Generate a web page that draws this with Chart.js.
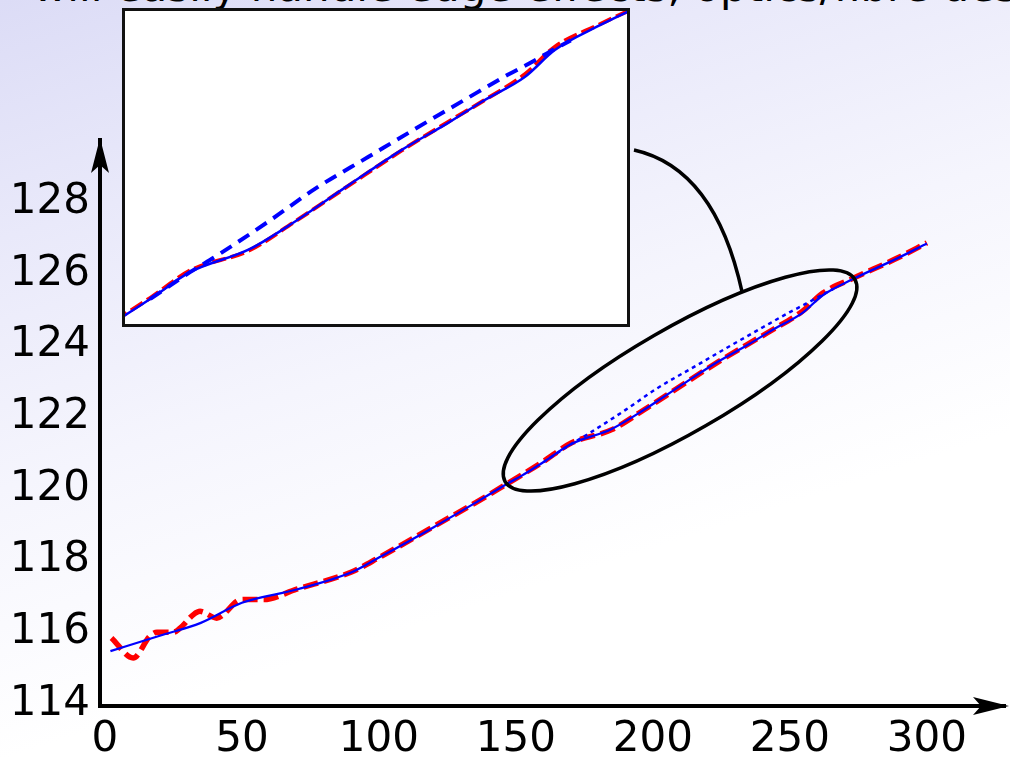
<!DOCTYPE html>
<html>
<head>
<meta charset="utf-8">
<script src="https://cdn.jsdelivr.net/npm/chart.js@4/dist/chart.umd.min.js"></script>
<style>
  html, body { margin: 0; padding: 0; }
  body {
    width: 1010px; height: 759px; overflow: hidden; position: relative;
    background: linear-gradient(162deg, #dcdcf6 0%, #e9e9fa 22%, #f5f5fd 45%, #ffffff 70%);
    font-family: 'DejaVu Sans', sans-serif;
  }
  #title {
    position: absolute; left: 33px; top: -34px; white-space: nowrap;
    font-size: 42px; line-height: 42px; color: #000;
  }
  #main { position: absolute; left: 0; top: 0; }
  #insetBox {
    position: absolute; left: 122px; top: 8px; width: 508px; height: 319px;
    box-sizing: border-box; border: 3px solid #111; background: #fff;
  }
  #inset { display: block; }
</style>
</head>
<body>
<div id="title">will easily handle edge effects, optics/fibre design</div>
<canvas id="main" width="1010" height="759"></canvas>
<div id="insetBox"><canvas id="inset" width="502" height="313"></canvas></div>
<script>
// tick labels
const xTicks = [0, 50, 100, 150, 200, 250, 300];
const yTicks = [114, 116, 118, 120, 122, 124, 126, 128];

// solid blue curve
const blueX = [2, 20, 35, 50, 70, 90, 100, 120, 135, 147, 152, 160, 170, 185, 196.5, 210, 223.4, 235, 244, 254.5, 262, 273, 289, 300];
const blueY = [115.47, 115.9, 116.26, 116.82, 117.19, 117.67, 118.08, 118.93, 119.6, 120.15, 120.36, 120.74, 121.24, 121.67, 122.19, 122.87, 123.53, 124.03, 124.45, 124.9, 125.4, 125.85, 126.42, 126.84];

// blue dotted / dashed curve (only where it leaves the solid one)
const dotX = [160, 170, 177, 190, 201.5, 215, 226.7, 240, 250, 256.1, 262, 266];
const dotY = [120.74, 121.24, 121.56, 122.2, 122.8, 123.4, 123.92, 124.5, 124.93, 125.17, 125.42, 125.58];

// red dashed curve
const redX = [2.4, 10.3, 16.4, 19, 25, 27.4, 32.3, 34.7, 40.8, 43.2, 48.1, 50.4, 57.8, 70, 90, 100, 120, 135, 147, 160, 170, 185, 196.5, 210, 223.4, 235, 244, 254.5, 262, 273, 289, 300];
const redY = [115.84, 115.28, 115.89, 116.0, 116.0, 116.11, 116.49, 116.58, 116.39, 116.49, 116.86, 116.91, 116.91, 117.2, 117.68, 118.08, 118.95, 119.6, 120.15, 120.76, 121.27, 121.65, 122.19, 122.86, 123.52, 124.05, 124.45, 124.95, 125.46, 125.87, 126.43, 126.86];

// zoomed region shown in the inset
const insetXRange = [153.6, 280.2];
const insetYRange = [120.27, 126.13];
// ellipse around the zoomed region (centre in data units)
const ellipseCenter = [209.9, 123.02];

const pts = (xs, ys) => xs.map((x, i) => ({ x: x, y: ys[i] }));
const font = { family: 'DejaVu Sans', size: 42 };

const annotate = {
  id: 'annotate',
  afterDraw(chart) {
    const ctx = chart.ctx;
    const a = chart.chartArea;
    ctx.save();
    ctx.fillStyle = '#000';
    // axis arrow heads
    ctx.beginPath();
    ctx.moveTo(a.left, a.top - 2);
    ctx.lineTo(a.left - 9, a.top + 33);
    ctx.lineTo(a.left, a.top + 25);
    ctx.lineTo(a.left + 9, a.top + 33);
    ctx.closePath();
    ctx.fill();
    ctx.beginPath();
    ctx.moveTo(a.right + 4, a.bottom);
    ctx.lineTo(a.right - 32, a.bottom - 9);
    ctx.lineTo(a.right - 24, a.bottom);
    ctx.lineTo(a.right - 32, a.bottom + 9);
    ctx.closePath();
    ctx.fill();

    // ellipse
    const cx = chart.scales.x.getPixelForValue(ellipseCenter[0]);
    const cy = chart.scales.y.getPixelForValue(ellipseCenter[1]);
    const rx = 202, ry = 52, rot = -Math.PI / 6;
    ctx.strokeStyle = '#000';
    ctx.lineWidth = 3.5;
    ctx.beginPath();
    ctx.ellipse(cx, cy, rx, ry, rot, 0, Math.PI * 2);
    ctx.stroke();

    // connector from inset to ellipse
    const t = -61 * Math.PI / 180;
    const u = rx * Math.cos(t), v = ry * Math.sin(t);
    const ex = cx + u * Math.cos(rot) - v * Math.sin(rot);
    const ey = cy + u * Math.sin(rot) + v * Math.cos(rot);
    ctx.beginPath();
    ctx.moveTo(634, 150);
    ctx.quadraticCurveTo(715, 168, ex, ey);
    ctx.stroke();
    ctx.restore();
  }
};

const line = { pointRadius: 0, cubicInterpolationMode: 'monotone', borderCapStyle: 'butt' };

new Chart(document.getElementById('main'), {
  type: 'line',
  data: {
    datasets: [
      { ...line, data: pts(blueX, blueY), borderColor: '#0000ff', borderWidth: 2.3 },
      { ...line, data: pts(dotX, dotY), borderColor: '#0000ff', borderWidth: 2.5, borderDash: [4, 4] },
      { ...line, data: pts(redX, redY), borderColor: '#ff0000', borderWidth: 5.5, borderDash: [15, 6] }
    ]
  },
  options: {
    responsive: false,
    animation: false,
    devicePixelRatio: 1,
    layout: { padding: { top: 140, right: 5, left: 0, bottom: 0 } },
    plugins: { legend: { display: false }, tooltip: { enabled: false } },
    scales: {
      x: {
        type: 'linear', min: -1.8, max: 328.5,
        grid: { display: false, drawTicks: false },
        border: { color: '#000', width: 4 },
        ticks: { color: '#000', font: font, padding: 9, maxRotation: 0 },
        afterBuildTicks: (axis) => { axis.ticks = xTicks.map(v => ({ value: v })); },
        afterFit: (scale) => { scale.height = 53; }
      },
      y: {
        type: 'linear', min: 113.94, max: 129.73,
        grid: { display: false, drawTicks: false },
        border: { color: '#000', width: 4 },
        ticks: { color: '#000', font: font, padding: 10 },
        afterBuildTicks: (axis) => { axis.ticks = yTicks.map(v => ({ value: v })); },
        afterFit: (scale) => { scale.width = 100; }
      }
    }
  },
  plugins: [annotate]
});

new Chart(document.getElementById('inset'), {
  type: 'line',
  data: {
    datasets: [
      { ...line, data: pts(blueX, blueY), borderColor: '#0000ff', borderWidth: 2.5 },
      { ...line, data: pts(dotX, dotY), borderColor: '#0000ff', borderWidth: 4, borderDash: [13, 8] },
      { ...line, data: pts(redX, redY), borderColor: '#ff0000', borderWidth: 4, borderDash: [14, 5] }
    ]
  },
  options: {
    responsive: false,
    animation: false,
    devicePixelRatio: 1,
    layout: { padding: 0 },
    plugins: { legend: { display: false }, tooltip: { enabled: false } },
    scales: {
      x: { type: 'linear', display: false, min: insetXRange[0], max: insetXRange[1] },
      y: { type: 'linear', display: false, min: insetYRange[0], max: insetYRange[1] }
    }
  }
});
</script>
</body>
</html>
